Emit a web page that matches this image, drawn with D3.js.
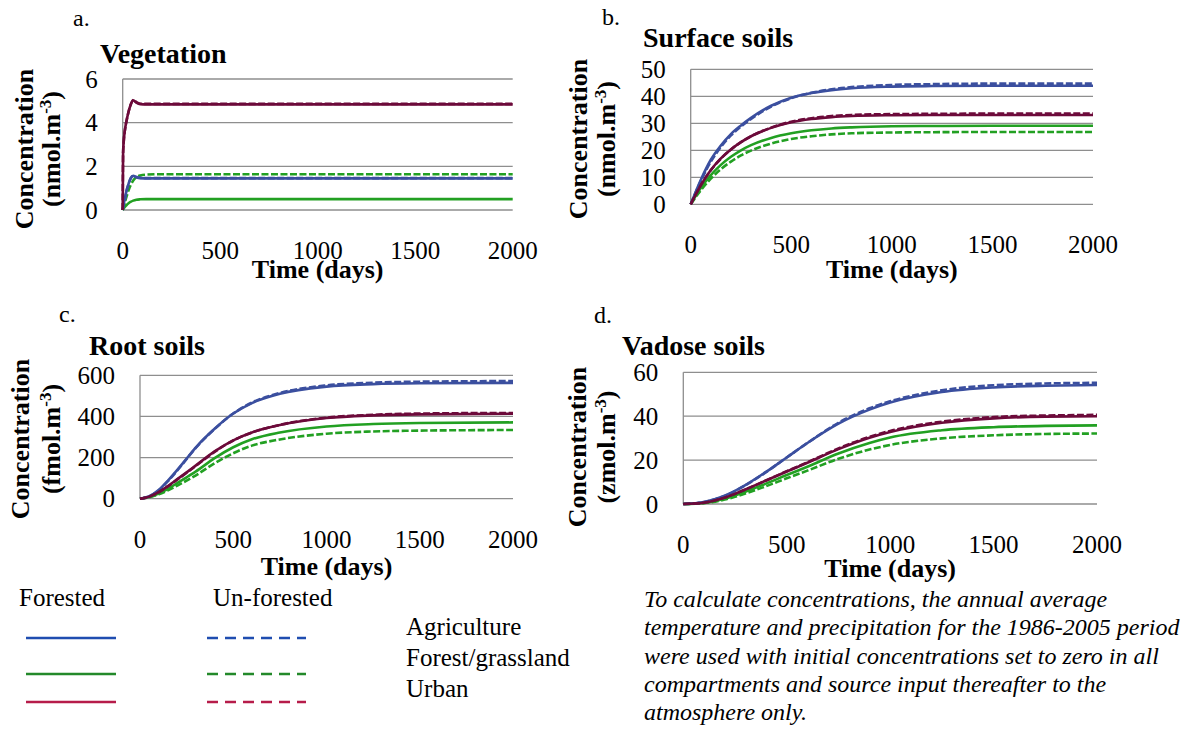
<!DOCTYPE html>
<html>
<head>
<meta charset="utf-8">
<script src="https://cdn.jsdelivr.net/npm/d3@7"></script>
<style>
  body { margin: 0; background: #fff; }
  svg text { font-family: "Liberation Serif", "Times New Roman", "DejaVu Serif", serif; fill: #000; }
</style>
</head>
<body>
<svg id="chart" width="1183" height="736" font-family="Liberation Serif, Times New Roman, serif"></svg>
<script>
// ---- data ----
// a. Vegetation (nmol.m-3)
const daysA = [0, 2, 5, 12, 20, 30, 40, 54, 70, 90, 120, 200, 500, 1000, 2000];
const vegAgriF  = [0, 0.1, 0.25, 0.55, 0.9, 1.2, 1.45, 1.57, 1.5, 1.46, 1.45, 1.45, 1.45, 1.45, 1.45];
const vegAgriU  = [0, 0.1, 0.24, 0.53, 0.88, 1.18, 1.42, 1.56, 1.51, 1.47, 1.46, 1.46, 1.46, 1.46, 1.46];
const vegGrassF = [0, 0.03, 0.07, 0.15, 0.23, 0.31, 0.37, 0.43, 0.47, 0.49, 0.5, 0.5, 0.5, 0.5, 0.5];
const vegGrassU = [0, 0.07, 0.17, 0.38, 0.62, 0.9, 1.12, 1.35, 1.5, 1.58, 1.62, 1.64, 1.64, 1.64, 1.64];
const vegUrbanF = [0, 2.6, 3.1, 3.7, 4.1, 4.5, 4.8, 5.03, 4.92, 4.85, 4.84, 4.84, 4.84, 4.84, 4.84];
const vegUrbanU = [0, 2.6, 3.1, 3.7, 4.1, 4.5, 4.8, 5.04, 4.94, 4.87, 4.86, 4.86, 4.86, 4.86, 4.86];

// b. Surface soils (nmol.m-3)
const daysB = [0, 50, 100, 150, 200, 250, 300, 400, 500, 600, 700, 800, 1000, 1200, 1500, 2000];
const surfAgriF  = [0, 9, 16.5, 21.8, 26, 29.2, 32, 36.5, 39.5, 41.2, 42.3, 43, 43.6, 43.8, 43.9, 43.9];
const surfAgriU  = [0, 8.6, 15.8, 21.2, 25.5, 28.8, 31.6, 36.2, 39.3, 41.3, 42.6, 43.4, 44.2, 44.5, 44.7, 44.7];
const surfGrassF = [0, 6, 10.8, 14.6, 17.6, 20, 21.9, 24.6, 26.3, 27.4, 28.1, 28.5, 28.9, 29, 29.1, 29.1];
const surfGrassU = [0, 5.2, 9.5, 13, 15.8, 18.1, 19.9, 22.5, 24.2, 25.2, 25.9, 26.3, 26.6, 26.7, 26.8, 26.8];
const surfUrbanF = [0, 7, 12.7, 17, 20.3, 23, 25.2, 28.3, 30.4, 31.6, 32.3, 32.7, 33, 33.1, 33.1, 33.1];
const surfUrbanU = [0, 7, 12.6, 16.9, 20.3, 23, 25.2, 28.4, 30.6, 31.9, 32.7, 33.1, 33.4, 33.5, 33.6, 33.6];

// c. Root soils (fmol.m-3)
const daysC = [0, 50, 100, 150, 200, 250, 300, 400, 500, 600, 750, 1000, 1250, 1500, 2000];
const rootAgriF  = [0, 12, 42, 88, 140, 195, 250, 340, 414, 465, 510, 545, 557, 561, 563];
const rootAgriU  = [0, 11, 40, 85, 137, 193, 248, 339, 414, 467, 514, 551, 564, 569, 572];
const rootGrassF = [0, 8, 25, 48, 76, 104, 133, 197, 250, 289, 322, 351, 363, 368, 371];
const rootGrassU = [0, 7, 21, 41, 64, 88, 114, 172, 221, 258, 288, 316, 327, 331, 334];
const rootUrbanF = [0, 10, 32, 62, 95, 128, 162, 230, 284, 322, 358, 392, 405, 410, 413];
const rootUrbanU = [0, 10, 31, 60, 93, 126, 160, 228, 283, 322, 359, 394, 408, 414, 417];

// d. Vadose soils (zmol.m-3)
const daysD = [0, 100, 200, 250, 300, 400, 500, 600, 750, 900, 1000, 1250, 1500, 1750, 2000];
const vadAgriF  = [0, 0.9, 3.8, 6.0, 8.6, 14.6, 21.2, 27.8, 36.6, 43, 46.2, 51, 53.1, 53.9, 54.2];
const vadAgriU  = [0, 0.9, 3.7, 5.9, 8.5, 14.5, 21.2, 27.8, 37, 43.6, 46.8, 51.8, 54.1, 54.9, 55.2];
const vadGrassF = [0, 0.5, 2.4, 3.9, 5.6, 9.3, 13.2, 17, 23, 27.8, 30.3, 33.6, 35, 35.6, 35.8];
const vadGrassU = [0, 0.4, 2.0, 3.3, 4.8, 8.1, 11.7, 15.2, 20.6, 24.8, 26.9, 29.9, 31.3, 31.9, 32.1];
const vadUrbanF = [0, 0.6, 2.9, 4.6, 6.6, 10.7, 14.8, 18.8, 25, 30.2, 32.8, 37, 39, 39.8, 40];
const vadUrbanU = [0, 0.6, 2.9, 4.6, 6.6, 10.7, 14.9, 19, 25.3, 30.6, 33.3, 37.5, 39.6, 40.3, 40.6];

const xTicks = [0, 500, 1000, 1500, 2000];
const landUses = ["Agriculture", "Forest/grassland", "Urban"];
const noteLines = [
    "To calculate concentrations, the annual average",
    "temperature and precipitation for the 1986-2005 period",
    "were used with initial concentrations set to zero in all",
    "compartments and source input thereafter to the",
    "atmosphere only."
];

// ---- styles ----
const serif = "Liberation Serif, Times New Roman, serif";
const lineColor = {"Agriculture": "#3b4f9f", "Forest/grassland": "#22a022", "Urban": "#6c0a3a"};
const legendColor = {"Agriculture": "#1f4db0", "Forest/grassland": "#23892a", "Urban": "#b61c4a"};

// panel layout (pixel boxes)
const panels = [
    {letter: "a.", title: "Vegetation", unit: "nmol.m", days: daysA, yMax: 6, yTicks: [0, 2, 4, 6],
     series: [vegGrassF, vegGrassU, vegAgriF, vegAgriU, vegUrbanF, vegUrbanU],
     x0: 122.7, x1: 512.7, yT: 79, yB: 210,
     letterPos: [73, 26], titlePos: [100, 63], tickY: 259, xLabY: 278,
     yLab1X: 33, yLab2X: 60, yLabY: 149},
    {letter: "b.", title: "Surface soils", unit: "nmol.m", days: daysB, yMax: 50, yTicks: [0, 10, 20, 30, 40, 50],
     series: [surfGrassF, surfGrassU, surfAgriF, surfAgriU, surfUrbanF, surfUrbanU],
     x0: 690.7, x1: 1093, yT: 69.3, yB: 204.3,
     letterPos: [602, 25], titlePos: [643, 47], tickY: 253, xLabY: 278,
     yLab1X: 587, yLab2X: 615, yLabY: 139},
    {letter: "c.", title: "Root soils", unit: "fmol.m", days: daysC, yMax: 600, yTicks: [0, 200, 400, 600],
     series: [rootGrassF, rootGrassU, rootAgriF, rootAgriU, rootUrbanF, rootUrbanU],
     x0: 140, x1: 513, yT: 375.3, yB: 498.7,
     letterPos: [59, 322], titlePos: [89, 355], tickY: 548, xLabY: 575,
     yLab1X: 29, yLab2X: 60, yLabY: 439},
    {letter: "d.", title: "Vadose soils", unit: "zmol.m", days: daysD, yMax: 60, yTicks: [0, 20, 40, 60],
     series: [vadGrassF, vadGrassU, vadAgriF, vadAgriU, vadUrbanF, vadUrbanU],
     x0: 683.3, x1: 1097, yT: 372.3, yB: 504,
     letterPos: [594, 323], titlePos: [622, 355], tickY: 553, xLabY: 577,
     yLab1X: 586, yLab2X: 615, yLabY: 447}
];
const seriesUse = ["Forest/grassland", "Forest/grassland", "Agriculture", "Agriculture", "Urban", "Urban"];
const seriesDashed = [false, true, false, true, false, true];

const svg = d3.select("#chart");

panels.forEach(p => {
    const x = d3.scaleLinear().domain([0, 2000]).range([p.x0, p.x1]);
    const y = d3.scaleLinear().domain([0, p.yMax]).range([p.yB, p.yT]);
    const g = svg.append("g").attr("font-family", serif);

    // gridlines
    g.append("g")
        .selectAll("line")
        .data(p.yTicks)
        .join("line")
        .attr("x1", p.x0)
        .attr("x2", p.x1)
        .attr("y1", d => y(d))
        .attr("y2", d => y(d))
        .attr("stroke", "#8e8e8e")
        .attr("stroke-width", 1.3);

    // left axis line
    g.append("line")
        .attr("x1", p.x0).attr("x2", p.x0)
        .attr("y1", p.yT).attr("y2", p.yB)
        .attr("stroke", "#8e8e8e")
        .attr("stroke-width", 1.3);

    // y tick labels
    g.append("g")
        .selectAll("text")
        .data(p.yTicks)
        .join("text")
        .attr("x", p.x0 - 25)
        .attr("y", d => y(d))
        .attr("dy", "0.34em")
        .attr("text-anchor", "end")
        .attr("font-family", serif)
        .style("font-size", "25px")
        .text(d => d);

    // x tick labels
    g.append("g")
        .selectAll("text")
        .data(xTicks)
        .join("text")
        .attr("x", d => x(d))
        .attr("y", p.tickY)
        .attr("text-anchor", "middle")
        .attr("font-family", serif)
        .style("font-size", "25px")
        .text(d => d);

    // lines
    const line = d3.line()
        .x((d, i) => x(p.days[i]))
        .y(d => y(d))
        .curve(d3.curveMonotoneX);

    g.append("g")
        .attr("fill", "none")
        .selectAll("path")
        .data(p.series)
        .join("path")
        .attr("d", line)
        .attr("stroke", (d, i) => lineColor[seriesUse[i]])
        .attr("stroke-width", 2.6)
        .attr("stroke-dasharray", (d, i) => seriesDashed[i] ? "7,2.5" : null);

    // panel letter + title
    g.append("text")
        .attr("x", p.letterPos[0])
        .attr("y", p.letterPos[1])
        .attr("font-family", serif)
        .style("font-size", "24px")
        .text(p.letter);

    g.append("text")
        .attr("x", p.titlePos[0])
        .attr("y", p.titlePos[1])
        .attr("font-family", serif)
        .style("font-size", "28px")
        .style("font-weight", "bold")
        .text(p.title);

    // axis titles
    g.append("text")
        .attr("x", (p.x0 + p.x1) / 2)
        .attr("y", p.xLabY)
        .attr("text-anchor", "middle")
        .attr("font-family", serif)
        .style("font-size", "26px")
        .style("font-weight", "bold")
        .text("Time (days)");

    g.append("text")
        .attr("transform", `translate(${p.yLab1X},${p.yLabY}) rotate(-90)`)
        .attr("text-anchor", "middle")
        .attr("font-family", serif)
        .style("font-size", "26px")
        .style("font-weight", "bold")
        .text("Concentration");

    const unit = g.append("text")
        .attr("transform", `translate(${p.yLab2X},${p.yLabY}) rotate(-90)`)
        .attr("text-anchor", "middle")
        .attr("font-family", serif)
        .style("font-size", "26px")
        .style("font-weight", "bold");
    unit.append("tspan").text("(" + p.unit);
    unit.append("tspan").attr("dy", -9).style("font-size", "17px").text("-3");
    unit.append("tspan").attr("dy", 9).text(")");
});

// ---- legend ----
const legend = svg.append("g").attr("font-family", serif);
legend.append("text").attr("x", 19).attr("y", 606).attr("font-family", serif).style("font-size", "25px").text("Forested");
legend.append("text").attr("x", 213).attr("y", 606).attr("font-family", serif).style("font-size", "25px").text("Un-forested");

const legendRowY = {"Agriculture": 638, "Forest/grassland": 674, "Urban": 702};

legend.selectAll("line.solid")
    .data(landUses)
    .join("line")
    .attr("class", "solid")
    .attr("x1", 26).attr("x2", 116)
    .attr("y1", d => legendRowY[d]).attr("y2", d => legendRowY[d])
    .attr("stroke", d => legendColor[d])
    .attr("stroke-width", 2.6);

legend.selectAll("line.dash")
    .data(landUses)
    .join("line")
    .attr("class", "dash")
    .attr("x1", 207).attr("x2", 306)
    .attr("y1", d => legendRowY[d]).attr("y2", d => legendRowY[d])
    .attr("stroke", d => legendColor[d])
    .attr("stroke-width", 2.6)
    .attr("stroke-dasharray", "11,7");

legend.selectAll("text.use")
    .data(landUses)
    .join("text")
    .attr("class", "use")
    .attr("x", 406)
    .attr("y", (d, i) => 635 + i * 31)
    .attr("font-family", serif)
    .style("font-size", "25px")
    .text(d => d);

// ---- note ----
svg.append("g")
    .selectAll("text")
    .data(noteLines)
    .join("text")
    .attr("x", 644)
    .attr("y", (d, i) => 607 + i * 28.3)
    .attr("font-family", serif)
    .style("font-size", "24px")
    .style("font-style", "italic")
    .text(d => d);
</script>
</body>
</html>
